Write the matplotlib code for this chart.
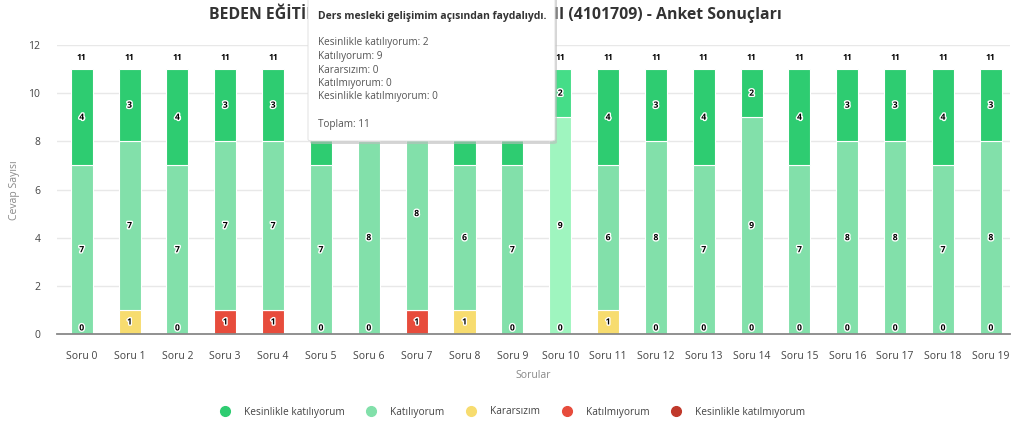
import matplotlib.pyplot as plt
import matplotlib.patheffects as pe
from matplotlib.patches import FancyBboxPatch
from matplotlib.lines import Line2D

plt.rcParams['font.family'] = ['Open Sans', 'DejaVu Sans']

questions = [f"Soru {i}" for i in range(20)]
kesinlikle_katiliyorum = [4, 3, 4, 3, 3, 4, 3, 2, 4, 4, 2, 4, 3, 4, 2, 4, 3, 3, 4, 3]
katiliyorum = [7, 7, 7, 7, 7, 7, 8, 8, 6, 7, 9, 6, 8, 7, 9, 7, 8, 8, 7, 8]
kararsizim = [0, 1, 0, 0, 0, 0, 0, 0, 1, 0, 0, 1, 0, 0, 0, 0, 0, 0, 0, 0]
katilmiyorum = [0, 0, 0, 1, 1, 0, 0, 1, 0, 0, 0, 0, 0, 0, 0, 0, 0, 0, 0, 0]
kesinlikle_katilmiyorum = [0] * 20

series_names = ['Kesinlikle katılmıyorum', 'Katılmıyorum', 'Kararsızım',
                'Katılıyorum', 'Kesinlikle katılıyorum']
series_values = [kesinlikle_katilmiyorum, katilmiyorum, kararsizim,
                 katiliyorum, kesinlikle_katiliyorum]
colors = ['#c0392b', '#e74c3c', '#f7dc6f', '#82e0aa', '#2ecc71']
hover_colors = ['#d24a3c', '#f25d4d', '#ffe680', '#9ff5bf', '#45dd88']
hover_index = 10

# middle of the title is hidden behind the tooltip in the source picture
title_head = 'BEDEN EĞİTİMİ VE SPOR ÖĞRETİM YÖNTEMİ '
title_tail = 'II (4101709) - Anket Sonuçları'
tooltip_title = 'Ders mesleki gelişimim açısından faydalıydı.'

W, H = 1013, 430
fig = plt.figure(figsize=(W / 100, H / 100), dpi=100)
ax = fig.add_axes([57 / W, 1 - 334 / H, (1010 - 57) / W, (334 - 45) / H])

x = list(range(len(questions)))
bottom = [0] * len(x)
for name, vals, col, hcol in zip(series_names, series_values, colors, hover_colors):
    cols = [hcol if i == hover_index else col for i in x]
    ax.bar(x, vals, bottom=bottom, width=0.46, color=cols, edgecolor='white',
           linewidth=0.8, zorder=3)
    bottom = [b + v for b, v in zip(bottom, vals)]

halo = [pe.withStroke(linewidth=2, foreground='white')]
lbl = dict(ha='center', va='center', fontsize=6.2, fontweight='bold', color='black',
           path_effects=halo, zorder=5)
for i in x:
    low = kararsizim[i] + katilmiyorum[i] + kesinlikle_katilmiyorum[i]
    if low > 0:
        ax.text(i, low / 2, str(low), **lbl)
    else:
        ax.text(i, 0.25, '0', **lbl)
    ax.text(i, low + katiliyorum[i] / 2, str(katiliyorum[i]), **lbl)
    top0 = low + katiliyorum[i]
    ax.text(i, top0 + kesinlikle_katiliyorum[i] / 2, str(kesinlikle_katiliyorum[i]), **lbl)
    total = top0 + kesinlikle_katiliyorum[i]
    ax.text(i, total + 0.5, str(total), ha='center', va='center', fontsize=6.2,
            fontweight='bold', color='black', zorder=5)

ax.set_xlim(-0.516, 19.4)
ax.set_ylim(0, 12)
ax.set_yticks(range(0, 13, 2))
ax.set_xticks(x)
ax.set_xticklabels(questions)
ax.tick_params(axis='both', length=0, labelsize=7.5, labelcolor='#444444')
ax.tick_params(axis='x', pad=12)
ax.tick_params(axis='y', pad=12)
ax.grid(axis='y', color='#e8e8e8', linewidth=1, zorder=0)
for s in ['top', 'right', 'left']:
    ax.spines[s].set_visible(False)
ax.spines['bottom'].set_color('#888888')
ax.spines['bottom'].set_linewidth(1.3)
ax.spines['bottom'].set_zorder(4)

ax.set_xlabel('Sorular', fontsize=7.5, color='#888888', labelpad=6)
fig.text(14 / W, 1 - 190 / H, 'Cevap Sayısı', rotation=90, ha='center', va='center',
         fontsize=7.5, color='#888888')

# size the title so the visible tail starts right at the tooltip's edge
renderer = fig.canvas.get_renderer()
probe = fig.text(0, 0, title_head, fontsize=12, fontweight='bold')
head_w = probe.get_window_extent(renderer).width
probe.remove()
title_size = 12 * (555 - 209) / head_w
fig.text(209 / W, 1 - 13 / H, title_head + title_tail, ha='left', va='center',
         fontsize=title_size, fontweight='bold', color='#333333')

handles = [Line2D([], [], marker='o', linestyle='', markersize=7, color=c)
           for c in colors[::-1]]
fig.legend(handles, series_names[::-1], loc='center', bbox_to_anchor=(510 / W, 1 - 412 / H),
           ncol=5, frameon=False, fontsize=7.3, handletextpad=0.9, columnspacing=1.6,
           labelcolor='#444444')

# tooltip box
tx0, ty0, tx1, ty1 = 308, -6, 555, 141
shadow = FancyBboxPatch(((tx0 + 2) / W, 1 - (ty1 + 3) / H), (tx1 - tx0) / W, (ty1 - ty0) / H,
                        boxstyle='round,pad=0,rounding_size=0.004', transform=fig.transFigure,
                        facecolor='#bbbbbb', edgecolor='none', alpha=0.6, zorder=9)
box = FancyBboxPatch((tx0 / W, 1 - ty1 / H), (tx1 - tx0) / W, (ty1 - ty0) / H,
                     boxstyle='round,pad=0,rounding_size=0.004', transform=fig.transFigure,
                     facecolor='white', edgecolor='#dddddd', linewidth=0.6, zorder=10)
fig.patches.extend([shadow, box])

fig.text(318 / W, 1 - 16 / H, tooltip_title, ha='left', va='center', fontsize=7.5,
         fontweight='bold', color='#333333', zorder=11)
tip_lines = [f"{n}: {v[hover_index]}" for n, v in zip(series_names[::-1], series_values[::-1])]
for k, line in enumerate(tip_lines):
    fig.text(318 / W, 1 - (43 + k * 13.5) / H, line, ha='left', va='center', fontsize=7.2,
             color='#555555', zorder=11)
total_hover = sum(v[hover_index] for v in series_values)
fig.text(318 / W, 1 - 124 / H, f"Toplam: {total_hover}", ha='left', va='center',
         fontsize=7.2, color='#555555', zorder=11)

fig.savefig('out.png', dpi=100)
